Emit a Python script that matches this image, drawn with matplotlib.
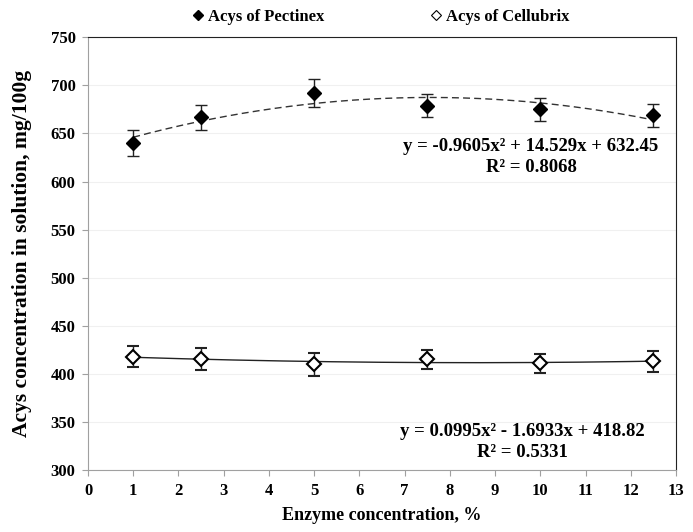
import numpy as np
import matplotlib
matplotlib.use("Agg")
import matplotlib.pyplot as plt

# data
enzyme = [1, 2.5, 5, 7.5, 10, 12.5]
pectinex = [640, 667, 692, 679, 675, 669]
pectinex_err = [14, 13, 15, 12, 12, 12]
cellubrix = [418, 415.5, 410, 415, 411, 413]
cellubrix_err = [11, 11, 12, 10, 10, 11]

pect_coef = [-0.9605, 14.529, 632.45]
cell_coef = [0.0995, -1.6933, 418.82]

plt.rcParams['font.family'] = ['Liberation Serif', 'DejaVu Serif']
plt.rcParams['font.weight'] = 'bold'

fig = plt.figure(figsize=(6.93, 5.32), dpi=100)
ax = fig.add_axes([0.127, 0.1165, 0.8485, 0.8135])

xs = np.linspace(enzyme[0], enzyme[-1], 200)
ax.plot(xs, np.polyval(pect_coef, xs), color='#333333', lw=1.0, ls=(0, (5, 3)), zorder=2)
ax.plot(xs, np.polyval(cell_coef, xs), color='#222222', lw=1.0, zorder=2)

ax.errorbar(enzyme, pectinex, yerr=pectinex_err, fmt='D', color='black',
            ms=7.5, ecolor='#222222', elinewidth=1, capsize=4, capthick=1, zorder=3)
ax.errorbar(enzyme, cellubrix, yerr=cellubrix_err, fmt='D', color='black',
            mfc='white', mec='black', mew=1.5, ms=7.5, ecolor='#222222',
            elinewidth=1, capsize=4, capthick=1, zorder=3)

ax.set_xlim(0, 13)
ax.set_ylim(300, 750)
ax.set_xticks(range(0, 14))
ax.set_yticks(range(300, 751, 50))
ax.yaxis.grid(True, color='#f0f0f0', lw=0.8)
ax.set_axisbelow(True)

for s in ['left', 'bottom']:
    ax.spines[s].set_color('#a0a0a0')
for s in ['top', 'right']:
    ax.spines[s].set_color('#222222')
ax.tick_params(axis='both', direction='out', length=4, color='#a0a0a0',
               labelsize=12, pad=5)
for lab in ax.get_xticklabels() + ax.get_yticklabels():
    lab.set_fontweight('bold')

ax.set_xlabel('Enzyme concentration, %', fontsize=13, fontweight='bold', labelpad=6)
ax.set_ylabel('Acys concentration in solution, mg/100g', fontsize=15.5,
              fontweight='bold', labelpad=13)

ax.text(9.78, 636, 'y = -0.9605x² + 14.529x + 632.45', ha='center', va='center',
        fontsize=13.5, fontweight='bold')
ax.text(9.8, 615, 'R² = 0.8068', ha='center', va='center', fontsize=13.5, fontweight='bold')
ax.text(9.6, 340, 'y = 0.0995x² - 1.6933x + 418.82', ha='center', va='center',
        fontsize=13.5, fontweight='bold')
ax.text(9.6, 318, 'R² = 0.5331', ha='center', va='center', fontsize=13.5, fontweight='bold')

h1 = plt.Line2D([], [], ls='none', marker='D', color='black', ms=5.5)
h2 = plt.Line2D([], [], ls='none', marker='D', mfc='white', mec='black', mew=0.8, ms=5.5)
fig.legend([h1, h2], ['Acys of Pectinex', 'Acys of Cellubrix'], loc='upper center',
           bbox_to_anchor=(0.548, 1.012), ncol=2, frameon=False,
           handletextpad=0.1, columnspacing=6.2, handlelength=1.0,
           prop={'weight': 'bold', 'size': 12})

fig.savefig('out.png', dpi=100)
